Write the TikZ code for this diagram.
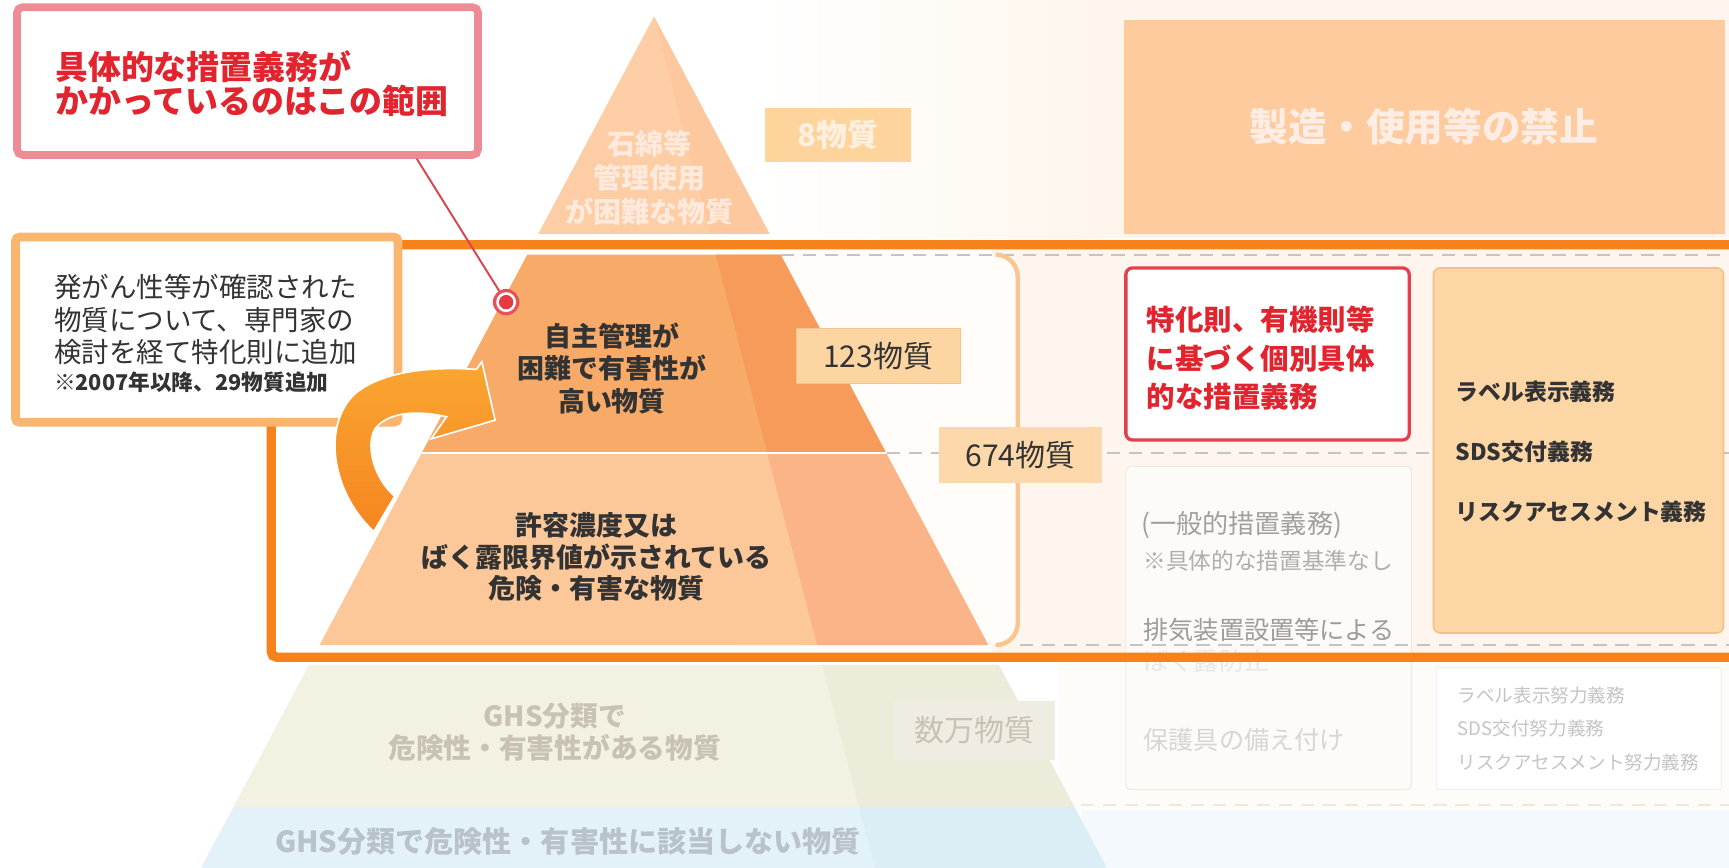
\documentclass[tikz,border=0pt]{standalone}
\usepackage{fontspec}
\setmainfont{Noto Sans CJK JP}
\usetikzlibrary{fit}
\definecolor{callB}{HTML}{EE8C96}
\definecolor{redtext}{HTML}{E1242E}
\definecolor{leftboxc}{HTML}{FAB56F}
\definecolor{framec}{HTML}{F7821C}
\definecolor{t1L}{HTML}{F8AB69}
\definecolor{t1R}{HTML}{F79B5B}
\definecolor{t2L}{HTML}{FCC899}
\definecolor{t2R}{HTML}{FBB487}
\definecolor{topL}{HTML}{FDCEA5}
\definecolor{topR}{HTML}{FDC89E}
\definecolor{topText}{HTML}{FEEADC}
\definecolor{banc}{HTML}{FDCB9D}
\definecolor{banText}{HTML}{FDEDE5}
\definecolor{eightc}{HTML}{FDD49C}
\definecolor{eightText}{HTML}{FEF0E0}
\definecolor{creamA}{HTML}{FEF6EC}
\definecolor{innerbg}{HTML}{FEF6EE}
\definecolor{bracketFill}{HTML}{FFFCF9}
\definecolor{bracketc}{HTML}{FAC58F}
\definecolor{dashc}{HTML}{C4C4C4}
\definecolor{n1fill}{HTML}{FDD5A3}
\definecolor{n1draw}{HTML}{F7C38B}
\definecolor{n2fill}{HTML}{FDD8AA}
\definecolor{darkT}{HTML}{333333}
\definecolor{redbox}{HTML}{E2404C}
\definecolor{grayFill}{HTML}{FDFBF8}
\definecolor{grayDraw}{HTML}{EFE9E2}
\definecolor{gA}{HTML}{A0A0A0}
\definecolor{gB}{HTML}{AEAEAE}
\definecolor{gC}{HTML}{9C9C9C}
\definecolor{gD}{HTML}{D6D6D6}
\definecolor{gE}{HTML}{E8E8E8}
\definecolor{colFill}{HTML}{FDD6A6}
\definecolor{colDraw}{HTML}{F6C089}
\definecolor{faintT}{HTML}{C4C4C4}
\definecolor{faintDraw}{HTML}{F2EEE9}
\definecolor{ghsL}{HTML}{F3F1E1}
\definecolor{ghsR}{HTML}{EDEBDA}
\definecolor{ghsT}{HTML}{C7C2B4}
\definecolor{manFill}{HTML}{EFEDE1}
\definecolor{blueL}{HTML}{E3F2F9}
\definecolor{blueR}{HTML}{DBEEF6}
\definecolor{blueT}{HTML}{B8C2C8}
\definecolor{arrowTop}{HTML}{FAA632}
\definecolor{arrowBot}{HTML}{F5861F}
\definecolor{callLine}{HTML}{D64550}
\definecolor{dotOuter}{HTML}{E6525C}
\definecolor{dotCore}{HTML}{E53A40}
\definecolor{lowCream}{HTML}{FEFCF8}
\definecolor{lowBlue}{HTML}{F3F9FC}
\definecolor{faintDash}{HTML}{EFE8DE}
\begin{document}
\begin{tikzpicture}[x=0.02cm,y=-0.02cm,
  txt/.style={inner sep=0pt, outer sep=0pt},
  boxfit/.style={inner sep=0pt, outer sep=0pt},
  dashln/.style={draw=dashc, line width=0.04cm, dash pattern=on 0.24cm off 0.16cm}]
\useasboundingbox (0,0) rectangle (1568,787);
\fill[white] (0,0) rectangle (1568,787);

% ---------- backgrounds ----------
\shade[left color=white, right color=creamA] (690,0) rectangle (1000,216);
\fill[creamA] (1000,0) rectangle (1568,216);
\fill[lowCream] (960,600) rectangle (1568,735);
\fill[lowBlue] (980,735) rectangle (1568,787);
\draw[faintDash, line width=0.04cm, dash pattern=on 0.24cm off 0.16cm] (960,730) -- (1568,730);

% ---------- top (faded) ----------
\node[boxfit, fit={(1019,18) (1564,212)}, fill=banc] (ban) {};
\node[txt, text=banText, font=\fontsize{20}{20}\selectfont\bfseries] (banT) at (ban.center) {製造・使用等の禁止};
\fill[topL] (593,15) -- (488.2,212) -- (697.8,212) -- cycle;
\fill[topR] (593,15) -- (644.1,212) -- (697.8,212) -- cycle;
\node[txt, align=center, text=topText, font=\fontsize{14.5}{17.6}\selectfont\bfseries] (topT) at (589,161) {石綿等\\管理使用\\が困難な物質};
\node[boxfit, fit={(694,98) (826,147)}, fill=eightc] (eightBox) {};
\node[txt, text=eightText, font=\fontsize{16}{16}\selectfont\bfseries] (eightT) at (eightBox.center) {8物質};

% ---------- framed area ----------
\fill[innerbg] (900,226) rectangle (1568,592);
\fill[bracketFill, rounded corners=0.4cm] (650,231) rectangle (923,585);
\draw[dashln] (708,231) -- (1568,231);
\draw[dashln] (804,411) -- (1568,411);

% pyramid tiers
\fill[t1L] (478.1,231) -- (707.9,231) -- (803.7,411) -- (382.3,411) -- cycle;
\fill[t1R] (649.1,231) -- (707.9,231) -- (803.7,411) -- (695.8,411) -- cycle;
\fill[t2L] (382.3,411) -- (803.7,411) -- (896.2,585) -- (289.8,585) -- cycle;
\fill[t2R] (695.8,411) -- (803.7,411) -- (896.2,585) -- (741,585) -- cycle;
\draw[white, line width=0.03cm] (382.3,411) -- (803.7,411);

\draw[bracketc, line width=0.08cm, rounded corners=0.4cm] (903,231) -- (923,231) -- (923,585) -- (903,585);

\node[txt, align=center, text=darkT, font=\fontsize{13.9}{16.7}\selectfont\bfseries] (t1txt) at (555,334) {自主管理が\\困難で有害性が\\高い物質};
\node[txt, align=center, text=darkT, font=\fontsize{13.9}{16.2}\selectfont\bfseries] (t2txt) at (541,505) {許容濃度又は\\ばく露限界値が示されている\\危険・有害な物質};

\node[boxfit, fit={(722,298) (871,348)}, fill=n1fill, draw=n1draw, line width=0.02cm] (n123) {};
\node[txt, text=darkT, font=\fontsize{15.5}{15.5}\selectfont] (n123t) at (n123.center) {123物質};
\node[boxfit, fit={(852,387) (999,438)}, fill=n2fill] (n674) {};
\node[txt, text=darkT, font=\fontsize{15.5}{15.5}\selectfont] (n674t) at (n674.center) {674物質};

% right columns
\node[boxfit, fit={(1021,243) (1278,399)}, fill=white, draw=redbox, line width=0.06cm, rounded corners=0.12cm] (rbox) {};
\node[txt, anchor=west, align=left, text=redtext, font=\fontsize{14.7}{19.8}\selectfont\bfseries] (rtxt) at (1040,325) {特化則、有機則等\\に基づく個別具体\\的な措置義務};

\node[boxfit, fit={(1021,423) (1280,716)}, fill=grayFill, draw=grayDraw, line width=0.02cm, rounded corners=0.08cm] (gbox) {};
\node[txt, anchor=west, text=gA, font=\fontsize{13.5}{13.5}\selectfont] (g1t) at (1035,476) {(一般的措置義務)};
\node[txt, anchor=west, text=gB, font=\fontsize{11.7}{11.7}\selectfont] (g2t) at (1037,509) {※具体的な措置基準なし};
\node[txt, anchor=west, text=gC, font=\fontsize{13}{13}\selectfont] (g3t) at (1037,571) {排気装置設置等による};
\node[txt, anchor=west, text=gE, font=\fontsize{13}{13}\selectfont] (g4t) at (1037,599) {ばく露防止};
\node[txt, anchor=west, text=gD, font=\fontsize{13}{13}\selectfont] (g5t) at (1037,671) {保護具の備え付け};

\node[boxfit, fit={(1300,243) (1563,574)}, fill=colFill, draw=colDraw, line width=0.03cm, rounded corners=0.12cm] (colbox) {};
\node[txt, anchor=west, align=left, text=darkT, font=\fontsize{11.8}{31}\selectfont\bfseries] (ctxt) at (1320,410) {ラベル表示義務\\SDS交付義務\\リスクアセスメント義務};

\node[boxfit, fit={(1303,605) (1561,716)}, fill=white, draw=faintDraw, line width=0.02cm] (fbox) {};
\node[txt, anchor=west, align=left, text=faintT, font=\fontsize{9.6}{17.3}\selectfont] (ftxt) at (1322,661) {ラベル表示努力義務\\SDS交付努力義務\\リスクアセスメント努力義務};

\draw[dashln] (925,585) -- (1568,585);

% ---------- lower (faded) tiers ----------
\fill[ghsL] (280.2,603) -- (905.8,603) -- (974.4,732) -- (211.6,732) -- cycle;
\fill[ghsR] (745.6,603) -- (905.8,603) -- (974.4,732) -- (779.1,732) -- cycle;
\fill[blueL] (211.6,732) -- (974.4,732) -- (1003.7,787) -- (182.3,787) -- cycle;
\fill[blueR] (779.1,732) -- (974.4,732) -- (1003.7,787) -- (793.4,787) -- cycle;
\node[txt, align=center, text=ghsT, font=\fontsize{14.3}{16.4}\selectfont\bfseries] (ghsTxt) at (503,664) {GHS分類で\\危険性・有害性がある物質};
\node[boxfit, fit={(811,636) (957,689)}, fill=manFill] (manBox) {};
\node[txt, text=ghsT, font=\fontsize{15.5}{15.5}\selectfont] (manT) at (manBox.center) {数万物質};
\node[txt, text=blueT, font=\fontsize{15}{15}\selectfont\bfseries] (blueTxt) at (515,763) {GHS分類で危険性・有害性に該当しない物質};

% ---------- orange frame ----------
\draw[framec, line width=0.17cm, rounded corners=0.1cm] (1580,222) -- (246,222) -- (246,596) -- (1580,596);

% ---------- left note box ----------
\node[boxfit, fit={(14,215) (361,383)}, fill=white, draw=leftboxc, line width=0.16cm, rounded corners=0.08cm] (lbox) {};
\node[txt, anchor=west, align=left, text=darkT, font=\fontsize{14.2}{16.7}\selectfont] (ltxt) at (49,290) {発がん性等が確認された\\物質について、専門家の\\検討を経て特化則に追加};
\node[txt, anchor=west, text=darkT, font=\fontsize{11.2}{11.2}\selectfont\bfseries] (lnote) at (49,347) {※2007年以降、29物質追加};

% ---------- curved arrow ----------
\path[top color=arrowTop, bottom color=arrowBot, draw=white, line width=0.03cm]
  (339,482) .. controls (300,446) and (292,385) .. (322,357)
  .. controls (345,338) and (385,332) .. (432,335)
  -- (437,328) -- (449,381) -- (391,398) -- (405,378)
  .. controls (380,372) and (352,373) .. (340,389)
  .. controls (331,405) and (340,435) .. (358,450) -- cycle;

% ---------- callout ----------
\node[boxfit, fit={(15.5,6.5) (433.5,140.5)}, fill=white, draw=callB, line width=0.14cm, rounded corners=0.1cm] (callBox) {};
\node[txt, anchor=west, align=left, text=redtext, font=\fontsize{17}{17.3}\selectfont\bfseries] (callTxt) at (50,76) {具体的な措置義務が\\かかっているのはこの範囲};
\coordinate (callFoot) at (378,144);
\coordinate (dotc) at (459,274);
\draw[callLine, line width=0.035cm] (callFoot) -- (dotc);
\node[circle, fill=dotOuter, minimum size=0.48cm, inner sep=0pt] (dotO) at (dotc) {};
\node[circle, fill=white, minimum size=0.36cm, inner sep=0pt] (dotW) at (dotc) {};
\node[circle, fill=dotCore, minimum size=0.26cm, inner sep=0pt] (dotR) at (dotc) {};
\end{tikzpicture}
\end{document}
